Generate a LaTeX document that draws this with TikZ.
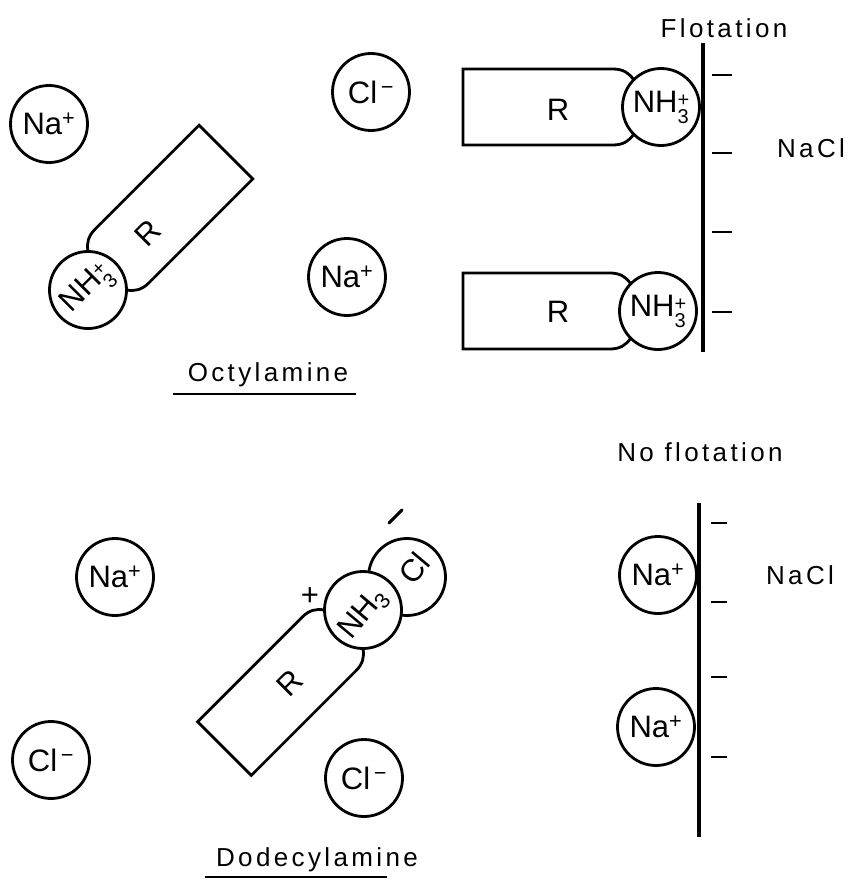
\documentclass[tikz,border=0pt]{standalone}
\usepackage{fontspec}
\setmainfont{Liberation Sans}
\newfontfamily\capfont[LetterSpace=13]{Liberation Sans}
\newcommand\nhthree{NH{\fontsize{20}{17}\selectfont\raisebox{-0.55em}{\shortstack[l]{+\\3}}}}
\newcommand\naplus{Na\textsuperscript{+}}
\newcommand\clminus{Cl\textsuperscript{\,−}}
\tikzset{
  ion/.style={circle, draw, line width=2.8pt, minimum size=77pt, inner sep=0pt, fill=white,
              font=\fontsize{31}{33}\selectfont},
  ionlabel/.style={inner sep=0pt, font=\fontsize{31}{33}\selectfont},
  wall/.style={line width=4pt},
  tickmark/.style={line width=2pt},
  tailline/.style={line width=2.8pt, line join=miter},
  caption/.style={inner sep=0pt, font=\capfont\fontsize{26}{30}\selectfont},
  pics/amtail/.style={code={
    \draw[tailline] (27.6,27.6) .. controls (32,34) and (38,38) .. (48,38) -- (#1,38)
       -- (#1,-38) -- (48,-38) .. controls (38,-38) and (32,-34) .. (27.6,-27.6);
  }},
}
\begin{document}
\begin{tikzpicture}[x=1pt,y=-1pt]
\useasboundingbox (0,0) rectangle (851,880);

% ---------- Octylamine (top left) ----------
\node[ion] (na1) at (49,124) {\naplus};
\node[ion] (cl1) at (371,92) {\clminus};
\node[ion] (na2) at (347,277) {\naplus};
\pic[rotate=45] at (88,290) {amtail=195};
\node[ion, rotate=45] (h1) at (88,290) {\nhthree};
\node[ionlabel, rotate=45] (r1) at (148,233) {R};
\node[caption] (oct) at (268,375) {Octylamine};
\draw[line width=2.6pt] (173,394) -- (356,394);

% ---------- Flotation (top right) ----------
\node[caption] (flot) at (724,28) {Flotation};
\draw[wall] (703,43) -- (703,352);
\foreach \yy in {75,153,232,312} \draw[tickmark] (712,\yy) -- (732,\yy);
\node[caption] (nacl1) at (811,148) {NaCl};
\pic[rotate=180] at (661,107) {amtail=198};
\node[ion] (h2) at (661,107) {\nhthree};
\node[ionlabel] (r2) at (558,110) {R};
\pic[rotate=180] at (658,311) {amtail=195};
\node[ion] (h3) at (658,311) {\nhthree};
\node[ionlabel] (r3) at (558,312) {R};

% ---------- Dodecylamine (bottom left) ----------
\node[ion] (na3) at (115,577) {\naplus};
\node[ion] (cl2) at (51,760) {\clminus};
\node[ion] (cl3) at (364,778) {\clminus};
\pic[rotate=225] at (363,610) {amtail=196};
\node[ion] (cl4) at (407,577) {};
\node[ion] (h4) at (363,610) {};
\node[ionlabel, rotate=50] (nh4) at (364,614) {NH\textsubscript{3}};
\node[ionlabel, rotate=50] (cltxt) at (414,568) {Cl};
\node[ionlabel] (plus4) at (310,597) {+};
\draw[line width=3pt, line cap=round] (389,523) -- (402,510);
\node[ionlabel, rotate=45] (r4) at (290,683) {R};
\node[caption] (dod) at (317,860) {Dodecylamine};
\draw[line width=2pt] (205,877) -- (387,877);

% ---------- No flotation (bottom right) ----------
\node[caption] (noflot) at (700,452) {No flotation};
\draw[wall] (699,503) -- (699,837);
\foreach \yy in {523,602,677,757} \draw[tickmark] (711,\yy) -- (727,\yy);
\node[caption] (nacl2) at (800,575) {NaCl};
\node[ion] (na4) at (658,575) {\naplus};
\node[ion] (na5) at (656,727) {\naplus};
\end{tikzpicture}
\end{document}
